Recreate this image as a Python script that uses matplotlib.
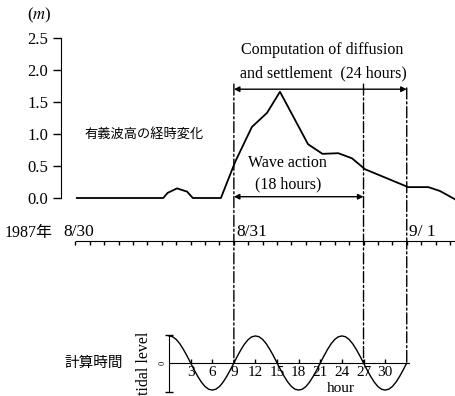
import matplotlib
matplotlib.use("Agg")
import matplotlib.pyplot as plt
from matplotlib.patches import ConnectionPatch

plt.rcParams['font.family'] = ['Liberation Serif', 'Noto Sans CJK JP']
plt.rcParams['mathtext.fontset'] = 'stix'

# significant wave height, hours counted from 8/30 00:00
wave_hour = [2.2, 14.2, 14.8, 16.1, 17.5, 18.3, 22.2, 24.2, 26.5, 28.6, 30.4,
             34.3, 36.3, 38.5, 40.4, 42.2, 48.2, 51.0, 52.6, 54.7]
wave_height = [0.0, 0.0, 0.08, 0.15, 0.10, 0.0, 0.0, 0.57, 1.11, 1.33, 1.66,
               0.84, 0.69, 0.70, 0.62, 0.45, 0.17, 0.17, 0.11, -0.02]
y_ticks = [0.0, 0.5, 1.0, 1.5, 2.0, 2.5]

# dates on the calendar axis (hour of day boundary, label)
day_hours = [0, 24, 48]
day_labels = ['8/30', '8/31', '9/ 1']

# tidal level over computation time, read every half hour
tide_hour = [i * 0.5 for i in range(67)]
tide_cycle = [1.0, 0.97, 0.87, 0.71, 0.5, 0.26, 0.0, -0.26, -0.5, -0.71, -0.87, -0.97,
              -1.0, -0.97, -0.87, -0.71, -0.5, -0.26, 0.0, 0.26, 0.5, 0.71, 0.87, 0.97]
tide_level = (tide_cycle * 3)[:66] + [0.0]
tide_ticks = [3, 6, 9, 12, 15, 18, 21, 24, 27, 30]
TIDE_OFFSET = 15          # tidal hour 9 == 8/31 00:00
wave_start, wave_end, comp_end = 24, 42, 48

W, H = 456, 396
fig = plt.figure(figsize=(W/100, H/100), dpi=100)
L, WD = 61/W, 394/W
XMAX = 54.7

# --- wave height panel
ax = fig.add_axes([L, 1-198/H, WD, 160/H])
ax.plot(wave_hour, wave_height, color='k', lw=1.3, clip_on=False)
ax.set_xlim(0, XMAX); ax.set_ylim(0, 2.5)
for s in ['top', 'right', 'bottom']:
    ax.spines[s].set_visible(False)
ax.spines['left'].set_bounds(0, 2.5)
ax.set_yticks(y_ticks); ax.set_yticklabels([f'{v:.1f}' for v in y_ticks])
ax.set_xticks([])
ax.tick_params(axis='y', direction='out', length=6, width=1, pad=3, labelsize=12)
ax.patch.set_alpha(0)
fig.text(39/W, 1-15/H, '($m$)', ha='center', va='center', fontsize=12)
ax.text(11.5, 1.0, '有義波高の経時変化', family=['Noto Sans CJK JP'], fontsize=9.5,
        ha='center', va='center')
ax.text(36.2, 2.31, 'Computation of diffusion', ha='center', va='center', fontsize=11.5)
ax.text(36.4, 1.95, 'and settlement  (24 hours)', ha='center', va='center', fontsize=11.5)
ax.text(31.4, 0.55, 'Wave action', ha='center', va='center', fontsize=11.5)
ax.text(31.5, 0.22, '(18 hours)', ha='center', va='center', fontsize=11.5)
arr = dict(arrowstyle='<|-|>', lw=1, color='k', mutation_scale=8, shrinkA=0, shrinkB=0)
ax.annotate('', xy=(comp_end, 1.70), xytext=(wave_start, 1.70), arrowprops=arr)
ax.annotate('', xy=(wave_end, 0.02), xytext=(wave_start, 0.02), arrowprops=arr)

# --- calendar axis
axd = fig.add_axes([L, 1-241/H, WD, 16/H])
axd.set_xlim(0, XMAX); axd.set_ylim(0, 1)
for s in ['top', 'right', 'left']:
    axd.spines[s].set_visible(False)
axd.spines['bottom'].set_bounds(2.1, XMAX)
axd.set_yticks([])
axd.set_xticks(range(2, 55, 2)); axd.set_xticklabels([])
axd.set_xticks(day_hours[1:], minor=True)
axd.tick_params(axis='x', which='major', direction='out', length=3, width=1)
axd.tick_params(axis='x', which='minor', direction='out', length=7, width=1)
axd.patch.set_alpha(0)
for h, lab in zip(day_hours, day_labels):
    axd.text(h + 0.3, 0.56, lab, ha='left', va='center', fontsize=12.5)
fig.text(5/W, 1-233/H, '1987年', ha='left', va='center', fontsize=11.5)

# --- tidal level panel
axt = fig.add_axes([L, 0, WD, 66/H])
axt.plot(tide_hour, tide_level, color='k', lw=1)
axt.set_xlim(-TIDE_OFFSET, XMAX-TIDE_OFFSET); axt.set_ylim(-1.22, 1.22)
for s in ['top', 'right']:
    axt.spines[s].set_visible(False)
axt.spines['bottom'].set_position(('data', 0)); axt.spines['bottom'].set_bounds(0, 33.3)
axt.spines['left'].set_position(('data', 0)); axt.spines['left'].set_bounds(-1.07, 1.04)
axt.plot([0, 0], [-1.07, 1.04], ls='none', marker='_', ms=6, mew=1, color='k')
axt.set_xticks(tide_ticks); axt.set_xticklabels([str(t) for t in tide_ticks])
axt.set_yticks([])
axt.tick_params(axis='x', direction='in', length=3, width=1, pad=2, labelsize=11)
axt.patch.set_alpha(0)
axt.text(23.9, -0.95, 'hour', ha='center', va='center', fontsize=11)
fig.text(144/W, 1-363/H, 'tidal level', rotation=90, ha='center', va='center', fontsize=11.5)
fig.text(163/W, 1-363/H, '0', rotation=90, ha='center', va='center', fontsize=6)
fig.text(64/W, 1-363/H, '計算時間', family=['Noto Sans CJK JP'], ha='left', va='center',
         fontsize=10.5)

# --- dash-dot guide lines linking the panels
for h, top in [(wave_start, 1.78), (wave_end, 1.78), (comp_end, 1.72)]:
    con = ConnectionPatch(xyA=(h, top), coordsA=ax.transData,
                          xyB=(h - TIDE_OFFSET, 0), coordsB=axt.transData,
                          color='k', lw=1, ls=(0, (8, 2, 1.5, 2)))
    fig.add_artist(con)

fig.savefig('out.png', dpi=100)
